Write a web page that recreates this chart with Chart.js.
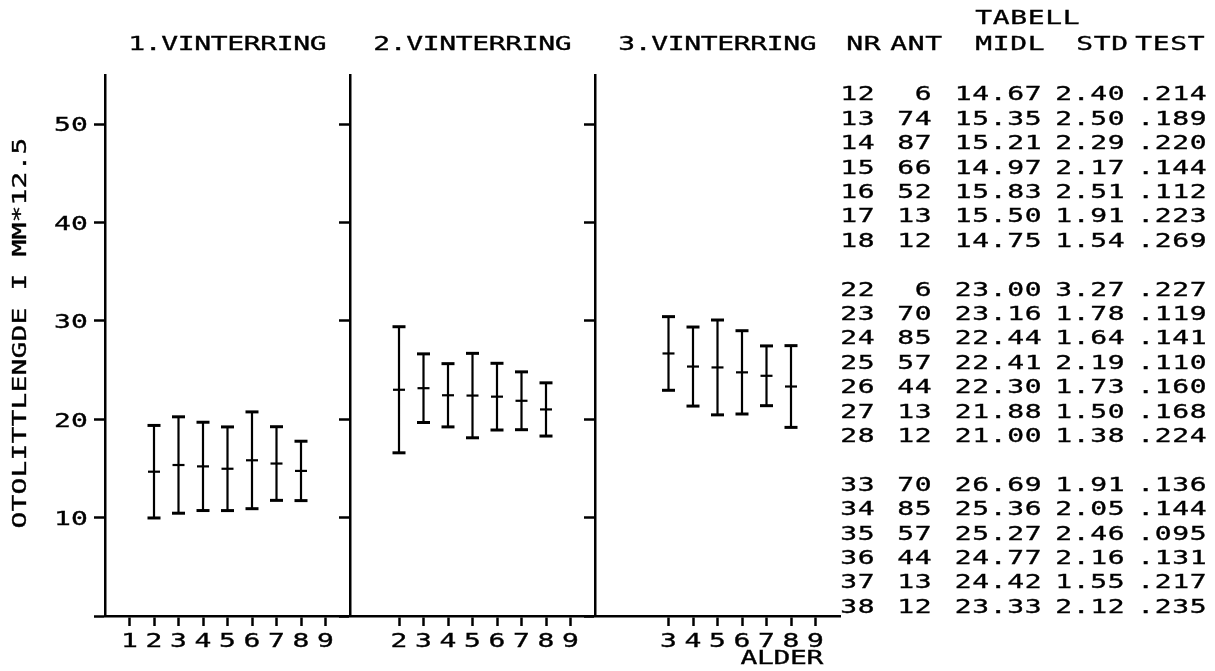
<!DOCTYPE html>
<html>
<head>
<meta charset="utf-8">
<title>Otolittlengde</title>
<script src="https://cdn.jsdelivr.net/npm/chart.js@4.4.0/dist/chart.umd.min.js"></script>
<style>
  html, body { margin: 0; padding: 0; background: #fff; }
  #wrap { width: 1215px; height: 671px; }
</style>
</head>
<body>
<div id="wrap"><canvas id="grafico"></canvas></div>
<script>
// Texts
const panelTitles = ['1.VINTERRING', '2.VINTERRING', '3.VINTERRING'];
const yTitle = 'OTOLITTLENGDE I MM*12.5';
const xTitle = 'ALDER';
const tableTitle = 'TABELL';
const tableHeader = ['NR', 'ANT', 'MIDL', 'STD', 'TEST'];

// Tick labels
const yTicks = [0, 10, 20, 30, 40, 50];
const xTicksPanel1 = [1, 2, 3, 4, 5, 6, 7, 8, 9];
const xTicksPanel2 = [2, 3, 4, 5, 6, 7, 8, 9];
const xTicksPanel3 = [3, 4, 5, 6, 7, 8, 9];

// Tabell: NR = vinterring*10 + alder
const nr = [12, 13, 14, 15, 16, 17, 18, 22, 23, 24, 25, 26, 27, 28, 33, 34, 35, 36, 37, 38];
const ant = [6, 74, 87, 66, 52, 13, 12, 6, 70, 85, 57, 44, 13, 12, 70, 85, 57, 44, 13, 12];
const midl = [14.67, 15.35, 15.21, 14.97, 15.83, 15.50, 14.75,
              23.00, 23.16, 22.44, 22.41, 22.30, 21.88, 21.00,
              26.69, 25.36, 25.27, 24.77, 24.42, 23.33];
const std = [2.40, 2.50, 2.29, 2.17, 2.51, 1.91, 1.54,
             3.27, 1.78, 1.64, 2.19, 1.73, 1.50, 1.38,
             1.91, 2.05, 2.46, 2.16, 1.55, 2.12];
const test = [.214, .189, .220, .144, .112, .223, .269,
              .227, .119, .141, .110, .160, .168, .224,
              .136, .144, .095, .131, .217, .235];

// the bars are drawn as mean +/- 1.96*std
const Z = 1.96;

// x on one linear axis: panel k covers [10*(k-1), 10*k]
function xOf(n) {
  return (Math.floor(n / 10) - 1) * 10 + (n % 10);
}

const xTicks = [].concat(
  xTicksPanel1,
  xTicksPanel2.map(v => v + 10),
  xTicksPanel3.map(v => v + 20)
);

const stems = [];
const caps = [];
const means = [];
nr.forEach((n, i) => {
  const x = xOf(n);
  const lo = midl[i] - Z * std[i];
  const hi = midl[i] + Z * std[i];
  stems.push({ x: x, y: lo }, { x: x, y: hi }, { x: x, y: null });
  caps.push({ x: x, y: lo }, { x: x, y: hi });
  means.push({ x: x, y: midl[i] });
});

// plotter-like text: monospaced, widened glyphs
const FONT = '20px "DejaVu Sans Mono", monospace';
function writeText(ctx, text, x, y, cell, align) {
  const n = text.length;
  let start = x;
  if (align === 'right') start = x - n * cell;
  if (align === 'center') start = x - n * cell / 2;
  ctx.save();
  ctx.font = FONT;
  ctx.fillStyle = '#000';
  ctx.strokeStyle = '#000';
  ctx.lineWidth = 0.35;
  ctx.textAlign = 'center';
  ctx.textBaseline = 'alphabetic';
  for (let i = 0; i < n; i++) {
    ctx.save();
    ctx.translate(start + (i + 0.5) * cell, y + 7.3);
    ctx.scale(1.4, 1);
    ctx.fillText(text[i], 0, 0);
    ctx.strokeText(text[i], 0, 0);
    ctx.restore();
  }
  ctx.restore();
}

function fmt2(v) { return v.toFixed(2); }
function fmt3(v) { return v.toFixed(3).replace(/^0/, ''); }

const textPlugin = {
  id: 'plotterText',
  afterDraw(chart) {
    const ctx = chart.ctx;
    const xs = chart.scales.x;
    const ys = chart.scales.y;

    // panel titles
    panelTitles.forEach((t, k) => {
      writeText(ctx, t, xs.getPixelForValue(k * 10 + 5), 43, 16.5, 'center');
    });

    // y tick labels
    ys.ticks.forEach(t => {
      if (t.value === 0) return;
      writeText(ctx, String(t.value), 88, ys.getPixelForValue(t.value), 17, 'right');
    });

    // x tick labels
    xs.ticks.forEach(t => {
      writeText(ctx, String(t.value % 10), xs.getPixelForValue(t.value), 640, 17, 'center');
    });

    writeText(ctx, xTitle, 782, 657, 16.5, 'center');

    // y title (rotated)
    ctx.save();
    ctx.translate(19, 333);
    ctx.rotate(-Math.PI / 2);
    writeText(ctx, yTitle, 0, 0, 17, 'center');
    ctx.restore();

    // tabell
    writeText(ctx, tableTitle, 975, 17, 17.5, 'left');
    const headLeft = [846, 890, 975, 1076, 1135];
    tableHeader.forEach((h, j) => writeText(ctx, h, headLeft[j], 43, 17.5, 'left'));

    const colRight = [875, 932, 1042, 1125, 1207];
    let row = 0;
    nr.forEach((n, i) => {
      if (i > 0 && Math.floor(n / 10) !== Math.floor(nr[i - 1] / 10)) row++;
      const y = 93 + row * 24.4;
      const cells = [String(n), String(ant[i]), fmt2(midl[i]), fmt2(std[i]), fmt3(test[i])];
      cells.forEach((c, j) => writeText(ctx, c, colRight[j], y, 17.5, 'right'));
      row++;
    });
  }
};

const gridOpts = {
  display: true,
  drawOnChartArea: false,
  drawTicks: true,
  tickLength: 10,
  tickWidth: 2.5,
  tickColor: '#000',
  color: '#000'
};
const borderOpts = { display: true, color: '#000', width: 2.5 };

function yAxis(atX) {
  return {
    type: 'linear',
    position: { x: atX },
    min: 0,
    max: 55,
    afterBuildTicks: s => { s.ticks = yTicks.map(v => ({ value: v })); },
    ticks: { display: false },
    grid: gridOpts,
    border: borderOpts
  };
}

const ctx = document.getElementById('grafico').getContext('2d');
new Chart(ctx, {
  type: 'scatter',
  data: {
    datasets: [
      {
        type: 'line',
        label: 'stolper',
        data: stems,
        borderColor: '#000',
        borderWidth: 2.2,
        pointRadius: 0,
        spanGaps: false,
        fill: false
      },
      {
        label: 'ender',
        data: caps,
        pointStyle: 'line',
        pointRadius: 6.5,
        borderColor: '#000',
        pointBorderWidth: 3
      },
      {
        label: 'midl',
        data: means,
        pointStyle: 'line',
        pointRadius: 6,
        borderColor: '#000',
        pointBorderWidth: 2.2
      }
    ]
  },
  options: {
    responsive: true,
    maintainAspectRatio: false,
    animation: false,
    layout: { padding: { left: 105, right: 375, top: 75, bottom: 45 } },
    scales: {
      x: {
        type: 'linear',
        min: 0,
        max: 30,
        afterBuildTicks: s => { s.ticks = xTicks.map(v => ({ value: v })); },
        ticks: { display: false },
        grid: gridOpts,
        border: borderOpts
      },
      y: yAxis(0),
      y2: yAxis(10),
      y3: yAxis(20)
    },
    plugins: {
      legend: { display: false },
      tooltip: { enabled: false }
    }
  },
  plugins: [textPlugin]
});
</script>
</body>
</html>
